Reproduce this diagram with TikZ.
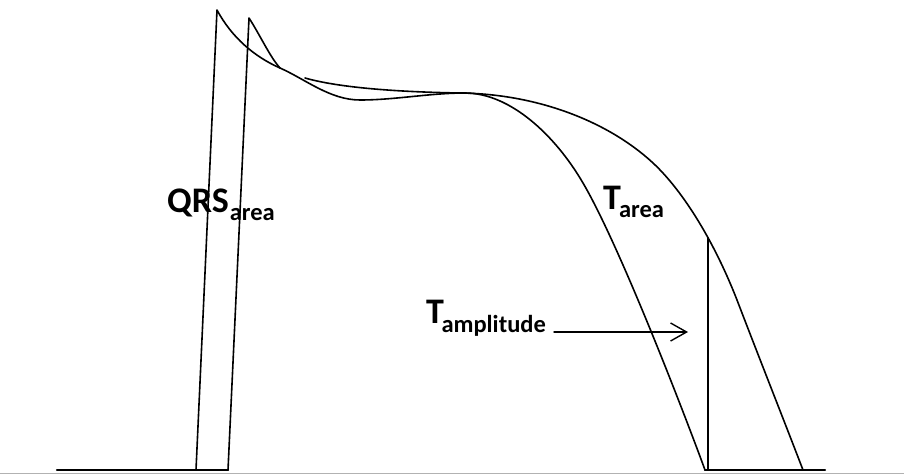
\documentclass[tikz,border=0pt]{standalone}
\usepackage{fontspec}
\setmainfont{Carlito}
\usetikzlibrary{arrows.meta}
\newcommand\mysub[1]{{\fontsize{24.5}{24}\selectfont #1}}
\begin{document}
\begin{tikzpicture}[x=1pt,y=-1pt,line cap=round,line join=round,
  wave/.style={line width=1.6pt,black},
  baseln/.style={line width=2.4pt,black},
  lbl/.style={inner sep=0pt,anchor=base west,font=\fontsize{36}{36}\selectfont\bfseries},
  ptr/.style={line width=1.4pt,-{Straight Barb[length=16pt,width=18pt,line width=1.4pt]}}]
\useasboundingbox (0,0) rectangle (904,474);
% faint frame edge
\draw[gray!60,line width=0.8pt] (0,473.5) -- (904,473.5);
% baselines
\coordinate (bl0) at (57,470);
\coordinate (bl1) at (228,470);
\coordinate (br0) at (705,470);
\coordinate (br1) at (825,470);
\draw[baseln] (bl0) -- (bl1);
\draw[baseln] (br0) -- (br1);
% first action potential (steeper T)
\coordinate (u1) at (196,470);
\coordinate (p1) at (217,10);
\coordinate (m1) at (280,68);
\coordinate (d1) at (360,100);
\coordinate (j1) at (465,93);
\coordinate (f1) at (583,183);
\draw[wave] (u1) -- (p1)
  .. controls (232,38) and (255,57) .. (m1)
  .. controls (305,79) and (330,100) .. (d1)
  .. controls (395,100) and (430,93) .. (j1)
  .. controls (510,93) and (555,135) .. (f1)
  .. controls (620,246) and (686,418) .. (br0);
% second upstroke, merging into the first
\coordinate (p2) at (249,18);
\draw[wave] (bl1) -- (p2) .. controls (260,35) and (270,57) .. (m1);
% later repolarisation curve
\coordinate (c0) at (305,78);
\coordinate (c1) at (460,93);
\coordinate (c2) at (653,163);
\coordinate (c3) at (737,300);
\coordinate (c4) at (803,470);
\draw[wave] (c0)
  .. controls (340,88) and (400,92) .. (c1)
  .. controls (540,94) and (610,123) .. (c2)
  .. controls (680,188) and (712,236) .. (c3)
  .. controls (760,360) and (783,418) .. (c4);
% T amplitude vertical
\coordinate (vt) at (708,238);
\coordinate (vb) at (708,469);
\draw[wave] (vt) -- (vb);
% labels
\node[lbl] (qrs) at (167,212) {QRS\kern1pt\raisebox{-8pt}{\mysub{area}}};
\node[lbl] (tarea) at (603,209) {T\kern-2pt\raisebox{-8pt}{\mysub{area}}};
\node[lbl] (tamp) at (426,323) {T\kern-2.5pt\raisebox{-9pt}{\mysub{amplitude}}};
% arrow
\coordinate (a0) at (554,332);
\coordinate (a1) at (688,332);
\draw[ptr] (a0) -- (a1);
\end{tikzpicture}
\end{document}
